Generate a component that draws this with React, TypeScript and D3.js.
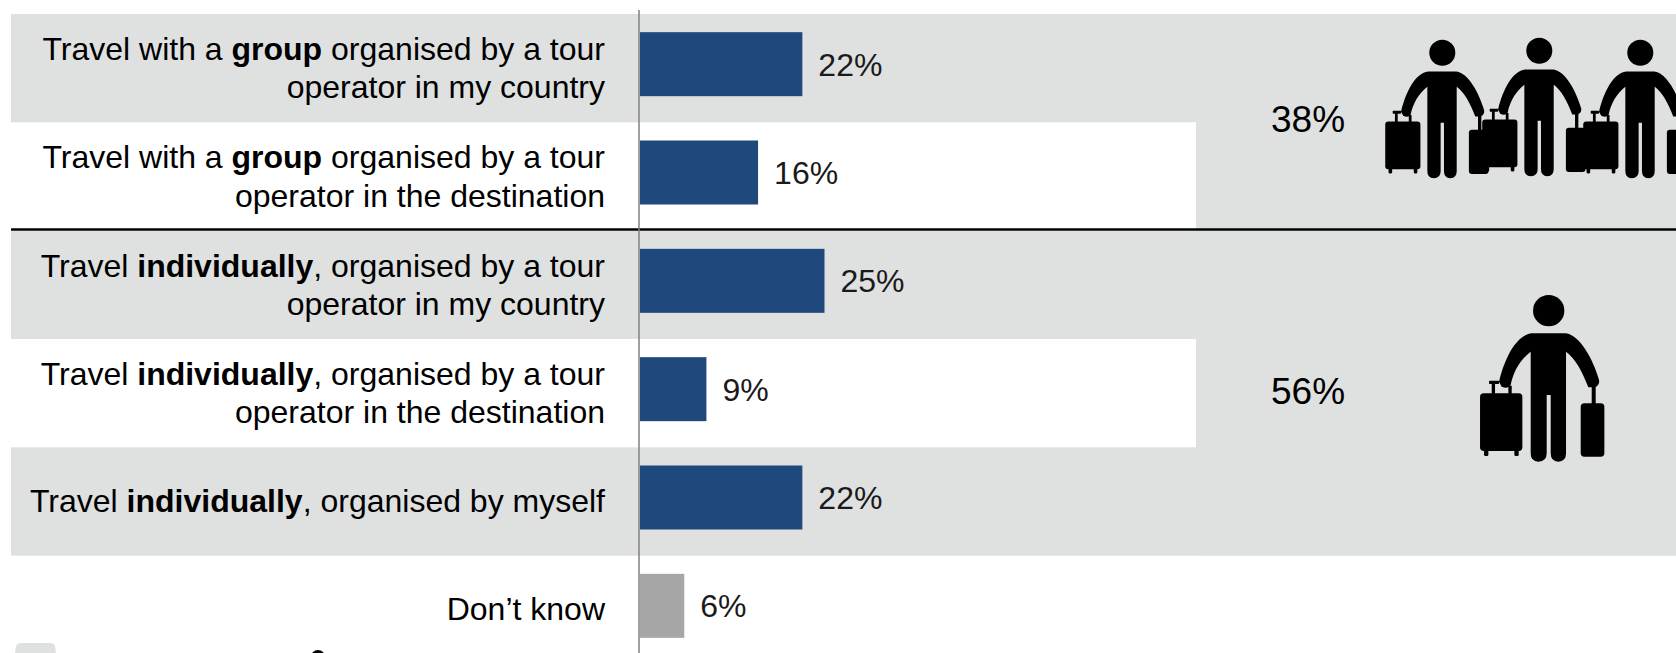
import React from "react";
import * as d3 from "d3";

const WIDTH = 1676;
const HEIGHT = 653;

const categories = [
  [["Travel with a ", "group", " organised by a tour"], ["operator in my country"]],
  [["Travel with a ", "group", " organised by a tour"], ["operator in the destination"]],
  [["Travel ", "individually", ", organised by a tour"], ["operator in my country"]],
  [["Travel ", "individually", ", organised by a tour"], ["operator in the destination"]],
  [["Travel ", "individually", ", organised by myself"]],
  [["Don\u2019t know"]],
];
const values = [22, 16, 25, 9, 22, 6];
const barColours = ["#1F497D", "#1F497D", "#1F497D", "#1F497D", "#1F497D", "#A6A6A6"];
const shadedRows = [0, 2, 4];
const totals = [
  { label: "38%", from: 0, to: 1, dy: 10 },
  { label: "56%", from: 2, to: 4, dy: 11 },
];

const FONT = "'Liberation Sans', Arial, sans-serif";
const BAND = "#DFE1E0";

const x = d3.scaleLinear().domain([0, 25]).range([640, 824.5]);
const y = d3.scaleBand<number>().domain(d3.range(6)).range([14, 664]).paddingInner(0).paddingOuter(0);

// Traveller pictogram, drawn around the centre of the head.
const BODY =
  "M-51,68 L51,68 C94,73 134,148 151,208 Q154,223 139,230 L119,230 C99,178 79,143 52,123 L52,428 Q52,453 29,453 Q6,453 6,428 L6,253 L-6,253 L-6,428 Q-6,453 -31,453 Q-54,453 -54,428 L-54,123 C-86,148 -106,183 -114,223 Q-121,236 -141,228 L-149,213 C-131,138 -96,73 -51,68 Z";

function Traveller({ cx, cy, k }: { cx: number; cy: number; k: number }) {
  return (
    <g transform={`translate(${cx},${cy}) scale(${k})`} fill="#000">
      <circle r={47} />
      <path d={BODY} />
      <rect x={-206} y={248} width={127} height={173} rx={11} />
      <rect x={-194} y={415} width={13} height={21} rx={4} />
      <rect x={-103} y={415} width={13} height={21} rx={4} />
      <rect x={-171} y={218} width={10} height={32} />
      <rect x={-179} y={210} width={30} height={10} rx={2} />
      <rect x={-121} y={225} width={10} height={25} />
      <rect x={96} y={278} width={71} height={160} rx={11} />
      <rect x={129} y={228} width={12} height={52} />
    </g>
  );
}

const groupIcons = [
  { cx: 1442.3, cy: 52.7 },
  { cx: 1539.3, cy: 50.7 },
  { cx: 1640.3, cy: 52.7 },
];

export default function App() {
  const fontSize = 32;
  return (
    <svg
      width={WIDTH}
      height={HEIGHT}
      viewBox={`0 0 ${WIDTH} ${HEIGHT}`}
      style={{ position: "fixed", left: 0, top: 0, display: "block", background: "#fff" }}
      fontFamily={FONT}
    >
      {/* Shaded rows reach the right edge; the summary column is one continuous panel */}
      {shadedRows.map((i) => (
        <rect key={i} x={11} y={y(i)} width={WIDTH - 11} height={y.bandwidth()} fill={BAND} />
      ))}
      <rect x={1196} y={y(0)} width={WIDTH - 1196} height={y(2)! - y(0)!} fill={BAND} />
      <rect x={1196} y={y(2)} width={WIDTH - 1196} height={y(5)! - y(2)!} fill={BAND} />

      {/* Partial shapes cut off by the bottom edge */}
      <path d="M15,653 L16,646 Q17,643 21,643 L50,643 Q54,643 55,646 L56,653 Z" fill={BAND} />
      <circle cx={318} cy={657} r={7} fill="#000" />

      {values.map((v, i) => {
        const h = 64;
        const top = y(i)! + (y.bandwidth() - h) / 2 - 4;
        return (
          <g key={i}>
            <rect x={x(0)} y={top} width={x(v) - x(0)} height={h} fill={barColours[i]} />
            <text x={x(v) + 16} y={top + h / 2 + 11.5} fontSize={fontSize} fill="#1a1a1a">
              {v}%
            </text>
          </g>
        );
      })}

      {categories.map((lines, i) => {
        const centre = y(i)! + y.bandwidth() / 2;
        const lineGap = 38.5;
        const first = centre + 10.5 - ((lines.length - 1) * 37.5) / 2;
        return (
          <text key={i} textAnchor="end" fontSize={fontSize} fill="#000">
            {lines.map((parts, j) => (
              <tspan key={j} x={605} y={first + j * lineGap}>
                {parts.map((p, n) => (
                  <tspan key={n} fontWeight={n === 1 ? 700 : 400}>
                    {p}
                  </tspan>
                ))}
              </tspan>
            ))}
          </text>
        );
      })}

      {totals.map((t) => {
        const mid = (y(t.from)! + y(t.to)! + y.bandwidth()) / 2;
        return (
          <text key={t.label} x={1271} y={mid + t.dy} fontSize={37} fill="#000">
            {t.label}
          </text>
        );
      })}

      {groupIcons.map((p, i) => (
        <Traveller key={i} cx={p.cx} cy={p.cy} k={0.277} />
      ))}
      <Traveller cx={1548.7} cy={310.7} k={0.3333} />

      <line x1={11} x2={WIDTH} y1={229.5} y2={229.5} stroke="#000" strokeWidth={2.5} />
      <line x1={639} x2={639} y1={10} y2={HEIGHT} stroke="#808080" strokeWidth={1.5} />
    </svg>
  );
}
